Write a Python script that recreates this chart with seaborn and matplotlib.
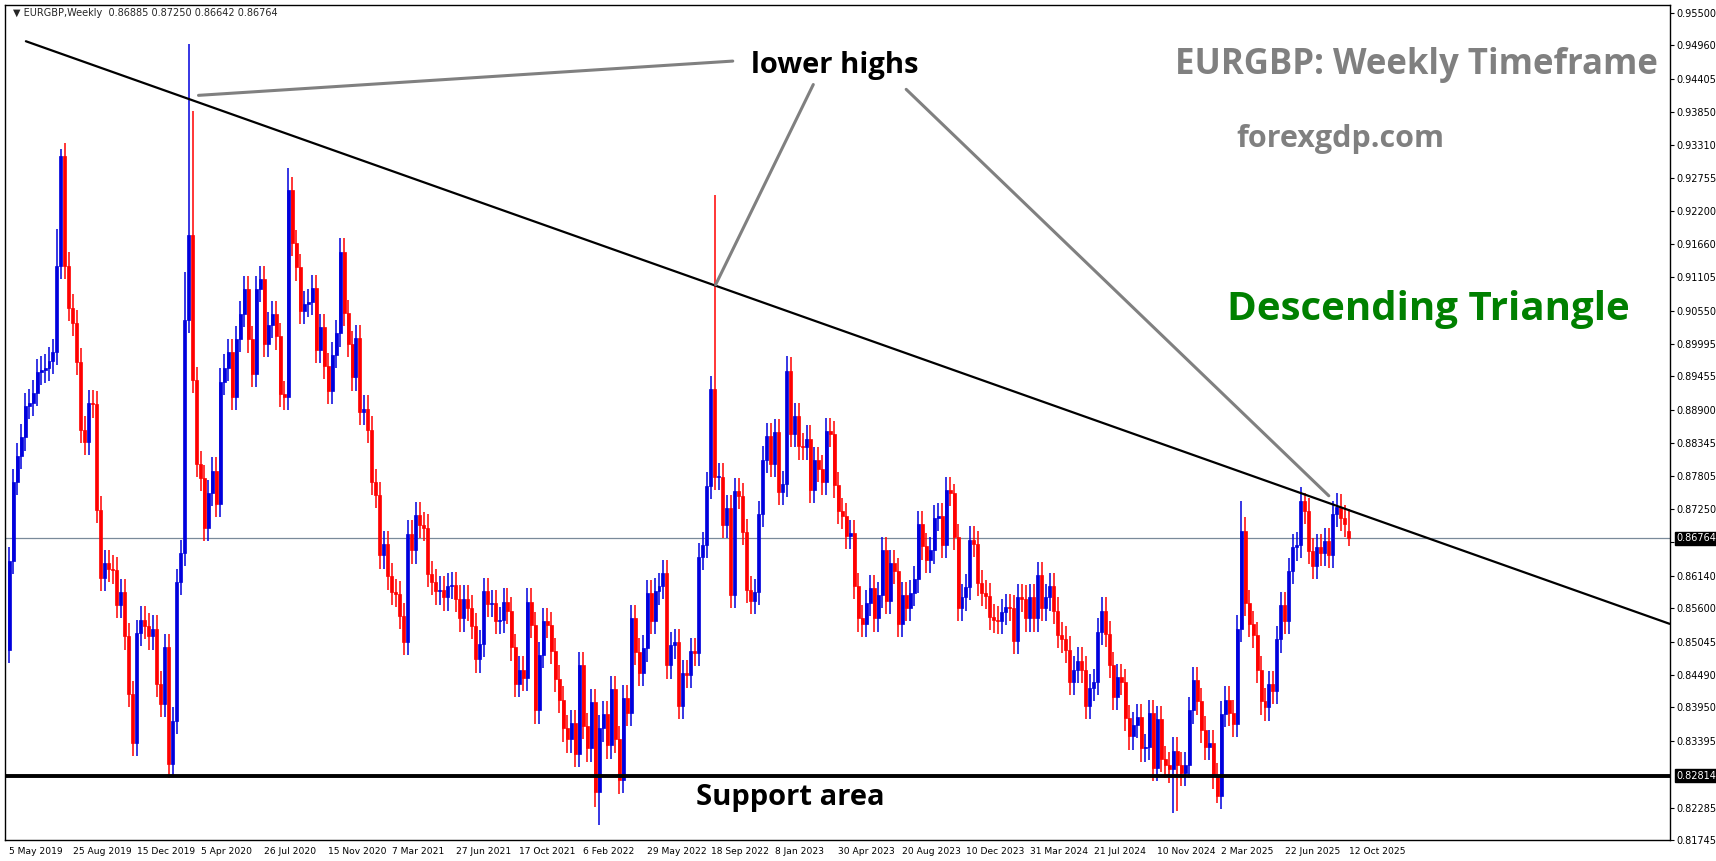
import numpy as np
import pandas as pd
import matplotlib
matplotlib.use("Agg")
import matplotlib.pyplot as plt
import seaborn as sns

# weekly closes EURGBP, 5 May 2019 .. 12 Oct 2025
closes = [
0.8639,0.8770,0.8813,0.8844,0.8896,0.8902,0.8918,0.8953,0.8957,0.8960,
0.8972,0.8986,0.9130,0.9312,0.9130,0.9060,0.9034,0.8970,0.8857,0.8837,
0.8901,0.8899,0.8724,0.8610,0.8635,0.8626,0.8623,0.8565,0.8587,0.8513,
0.8417,0.8336,0.8519,0.8541,0.8530,0.8513,0.8526,0.8434,0.8401,0.8495,
0.8301,0.8373,0.8604,0.8652,0.9040,0.9181,0.8940,0.8800,0.8777,0.8693,
0.8752,0.8789,0.8733,0.8937,0.8960,0.8986,0.8911,0.9008,0.9049,0.9091,
0.9007,0.8950,0.9091,0.9108,0.8999,0.9031,0.9049,0.9012,0.8916,0.8911,
0.9256,0.9167,0.9127,0.9055,0.9066,0.9069,0.9092,0.8990,0.9027,0.8963,
0.8922,0.8981,0.9017,0.9153,0.9051,0.8999,0.8944,0.9009,0.8887,0.8892,
0.8857,0.8770,0.8748,0.8648,0.8667,0.8613,0.8587,0.8584,0.8547,0.8504,
0.8684,0.8656,0.8715,0.8698,0.8694,0.8617,0.8604,0.8588,0.8591,0.8578,
0.8597,0.8599,0.8576,0.8543,0.8576,0.8560,0.8530,0.8475,0.8501,0.8588,
0.8567,0.8569,0.8539,0.8540,0.8571,0.8556,0.8495,0.8434,0.8458,0.8444,
0.8571,0.8532,0.8390,0.8482,0.8539,0.8532,0.8489,0.8443,0.8408,0.8360,
0.8342,0.8369,0.8318,0.8465,0.8364,0.8327,0.8404,0.8255,0.8360,0.8384,
0.8332,0.8425,0.8342,0.8274,0.8411,0.8386,0.8543,0.8488,0.8452,0.8493,
0.8585,0.8539,0.8588,0.8597,0.8619,0.8465,0.8498,0.8504,0.8397,0.8452,
0.8449,0.8489,0.8486,0.8646,0.8665,0.8764,0.8925,0.8779,0.8779,0.8698,
0.8726,0.8582,0.8755,0.8747,0.8687,0.8591,0.8572,0.8587,0.8717,0.8807,
0.8846,0.8800,0.8853,0.8754,0.8767,0.8955,0.8850,0.8879,0.8829,0.8828,
0.8842,0.8757,0.8806,0.8792,0.8770,0.8855,0.8850,0.8765,0.8722,0.8713,
0.8680,0.8685,0.8597,0.8543,0.8534,0.8569,0.8593,0.8543,0.8582,0.8656,
0.8572,0.8635,0.8622,0.8534,0.8582,0.8560,0.8585,0.8608,0.8700,0.8663,
0.8641,0.8656,0.8710,0.8713,0.8665,0.8757,0.8752,0.8678,0.8560,0.8578,
0.8595,0.8674,0.8667,0.8602,0.8585,0.8580,0.8545,0.8541,0.8539,0.8554,
0.8562,0.8560,0.8506,0.8578,0.8576,0.8543,0.8578,0.8543,0.8615,0.8560,
0.8578,0.8597,0.8556,0.8515,0.8508,0.8491,0.8437,0.8458,0.8473,0.8458,
0.8397,0.8428,0.8437,0.8521,0.8556,0.8517,0.8466,0.8412,0.8445,0.8437,
0.8377,0.8347,0.8366,0.8379,0.8327,0.8329,0.8386,0.8295,0.8376,0.8309,
0.8299,0.8292,0.8323,0.8299,0.8286,0.8299,0.8390,0.8440,0.8405,0.8358,
0.8329,0.8336,0.8281,0.8248,0.8384,0.8408,0.8386,0.8367,0.8526,0.8689,
0.8569,0.8534,0.8515,0.8458,0.8405,0.8395,0.8434,0.8423,0.8508,0.8565,
0.8539,0.8622,0.8661,0.8665,0.8739,0.8722,0.8655,0.8630,0.8661,0.8652,
0.8672,0.8649,0.8717,0.8728,0.8710,0.8700,0.86764]
first_open = 0.8491
last_open, last_high, last_low = 0.86885, 0.87250, 0.86642

# notable wick extremes: index -> value
high_marks = {13: 0.9323, 45: 0.9498, 46: 0.9387, 70: 0.9293, 177: 0.9248,
              195: 0.8979, 237: 0.8767, 309: 0.8739, 325: 0.8752, 333: 0.8752,
              336: last_high, 12: 0.9190, 44: 0.9120}
low_marks = {40: 0.8277, 41: 0.8281, 147: 0.8229, 148: 0.8199, 153: 0.8251,
             292: 0.8219, 293: 0.8222, 303: 0.8236, 336: last_low}
wick = 0.0022

xtick_labels = ["5 May 2019","25 Aug 2019","15 Dec 2019","5 Apr 2020","26 Jul 2020",
    "15 Nov 2020","7 Mar 2021","27 Jun 2021","17 Oct 2021","6 Feb 2022","29 May 2022",
    "18 Sep 2022","8 Jan 2023","30 Apr 2023","20 Aug 2023","10 Dec 2023","31 Mar 2024",
    "21 Jul 2024","10 Nov 2024","2 Mar 2025","22 Jun 2025","12 Oct 2025"]
ytick_values = [0.95500,0.94960,0.94405,0.93850,0.93310,0.92755,0.92200,0.91660,0.91105,
    0.90550,0.89995,0.89455,0.88900,0.88345,0.87805,0.87250,0.86695,0.86140,0.85600,
    0.85045,0.84490,0.83950,0.83395,0.82285,0.81745]
support_level = 0.82814
current_price = 0.86764
trend_x = [4.2, 416.5]
trend_y = [0.9503, 0.8534]

n = len(closes)
opens = [first_open] + closes[:-1]
opens[-1] = last_open
idx = np.arange(n)
highs, lows = [], []
for i in range(n):
    top = max(opens[i], closes[i]); bot = min(opens[i], closes[i])
    highs.append(high_marks.get(i, top + wick))
    lows.append(low_marks.get(i, bot - wick))
df = pd.DataFrame({"i": idx, "open": opens, "close": closes, "high": highs, "low": lows})
df["up"] = df["close"] >= df["open"]

sns.set_style("white")
plt.rcParams['font.family'] = ['DejaVu Sans']
fig = plt.figure(figsize=(17.16, 8.61), dpi=100)
ax = fig.add_axes([0.003, 0.0244, 0.970, 0.9696])
cols = np.where(df["up"], "#0000DD", "#FF0000")
ax.vlines(df["i"], df["low"], df["high"], colors=cols, linewidth=1.1, zorder=3)
bottoms = np.minimum(df["open"], df["close"])
heights = np.maximum(np.abs(df["close"] - df["open"]), 0.00012)
ax.bar(df["i"], heights, bottom=bottoms, width=0.75, color=cols, edgecolor=cols,
       linewidth=0.5, zorder=4)

ax.axhline(current_price, color="#7a8a9a", linewidth=0.9, zorder=2)
sns.lineplot(x=trend_x, y=trend_y, ax=ax, color="black", linewidth=1.6, zorder=5)
sns.lineplot(x=[-2, 417], y=[support_level, support_level], ax=ax, color="black",
             linewidth=2.8, zorder=5)
gray = "#808080"
for (x0, y0, x1, y1) in [(47.5, 0.9413, 181.5, 0.9470), (201.7, 0.9431, 177.2, 0.9098),
                          (225, 0.9423, 331, 0.8747)]:
    ax.plot([x0, x1], [y0, y1], color=gray, linewidth=2.2, zorder=6)

ax.text(207, 0.9463, "lower highs", ha="center", va="center", fontsize=21,
        fontweight="bold", color="black", family="Open Sans")
ax.text(196, 0.8246, "Support area", ha="center", va="center", fontsize=21,
        fontweight="bold", color="black", family="Open Sans")
ax.text(353, 0.9463, "EURGBP: Weekly Timeframe", ha="center", va="center", fontsize=25,
        fontweight="bold", color=gray, family="Open Sans")
ax.text(334, 0.9341, "forexgdp.com", ha="center", va="center", fontsize=22,
        fontweight="bold", color=gray, family="Open Sans")
ax.text(356, 0.9057, "Descending Triangle", ha="center", va="center", fontsize=29,
        fontweight="bold", color="#008000", family="Open Sans")
ax.text(0.005, 0.997, "\u25bc EURGBP,Weekly  0.86885 0.87250 0.86642 0.86764",
        transform=ax.transAxes, ha="left", va="top", fontsize=7)

ax.set_xlim(-1, 416.5)
ax.set_ylim(0.8186, 0.9563)
ax.yaxis.tick_right()
ax.set_yticks(ytick_values)
ax.set_yticklabels(["" if abs(v - 0.86695) < 1e-6 else f"{v:.5f}" for v in ytick_values],
                   fontsize=7)
ax.set_xticks(np.arange(0, 16 * len(xtick_labels), 16))
ax.set_xticklabels(xtick_labels, fontsize=6.6, ha="left")
ax.tick_params(axis="both", length=3, width=0.8, pad=2, direction="out", colors="black")
for s in ax.spines.values():
    s.set_color("black"); s.set_linewidth(1)
ax.set_xlabel(""); ax.set_ylabel("")
for v in (current_price, support_level):
    ax.text(1.004, v, f"{v:.5f}", transform=ax.get_yaxis_transform(), ha="left",
            va="center", fontsize=7, color="white",
            bbox=dict(boxstyle="square,pad=0.15", fc="black", ec="black"), zorder=10,
            clip_on=False)
fig.savefig("out.png", dpi=100)
